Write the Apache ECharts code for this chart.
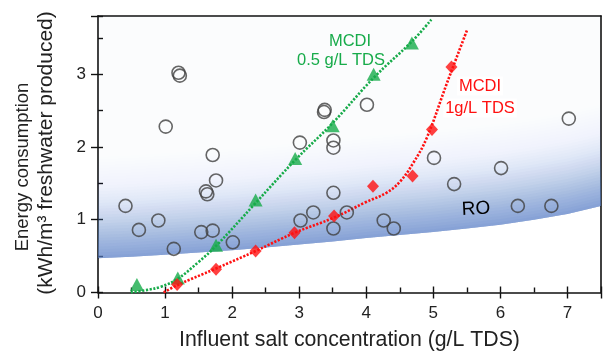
<!DOCTYPE html>
<html><head><meta charset="utf-8">
<script src="https://cdn.jsdelivr.net/npm/echarts@6/dist/echarts.min.js"></script>
<style>html,body{margin:0;padding:0;background:#fff}#c{width:604px;height:352px}</style>
</head><body><div id="c"></div><script>
// ---- data ----
const xTickLabels = [0,1,2,3,4,5,6,7];
const yTickLabels = [0,1,2,3];
// other (open circle) data points
const otherX = [0.41,0.61,0.90,1.01,1.20,1.22,1.13,1.54,1.61,1.63,1.71,1.76,1.71,2.01,3.01,3.02,3.21,3.37,3.38,3.51,3.51,3.51,3.51,3.71,4.01,4.26,4.41,5.01,5.31,6.01,6.26,6.76,7.02];
const otherY = [1.19,0.86,0.99,2.28,3.02,2.98,0.60,0.83,1.39,1.35,1.89,1.54,0.85,0.69,2.06,0.99,1.10,2.48,2.51,2.09,1.99,1.37,0.88,1.10,2.58,0.99,0.88,1.85,1.49,1.71,1.19,1.19,2.39];
// MCDI 0.5 g/L TDS (green triangles)
const mcdi05X = [0.58,1.19,1.76,2.35,2.94,3.50,4.11,4.68];
const mcdi05Y = [0.11,0.20,0.65,1.27,1.84,2.29,3.00,3.43];
// MCDI 1 g/L TDS (red diamonds)
const mcdi1X = [1.18,1.76,2.35,2.93,3.52,4.10,4.69,4.98,5.27];
const mcdi1Y = [0.11,0.32,0.57,0.82,1.05,1.46,1.60,2.24,3.10];
// dotted trend curves
const fit05X = [0.49,0.70,0.94,1.19,1.50,1.76,2.35,2.94,3.50,4.11,4.68,4.97];
const fit05Y = [0.00,0.03,0.08,0.19,0.42,0.64,1.23,1.82,2.33,2.95,3.45,3.75];
const fit1X = [0.98,1.18,1.76,2.35,2.93,3.52,3.99,4.30,4.50,4.70,4.90,5.20,5.50];
const fit1Y = [0.00,0.10,0.33,0.57,0.82,1.03,1.24,1.37,1.52,1.78,2.12,2.87,3.60];
// RO band lower edge
const roEdgeX = [0,0.5,1,1.5,2,2.5,3,3.5,4,4.5,5,5.5,6,6.5,7,7.5];
const roEdgeY = [0.47,0.49,0.52,0.55,0.58,0.62,0.66,0.70,0.75,0.79,0.83,0.88,0.93,1.00,1.08,1.19];

// ---- styles ----
const FONT = '"Liberation Sans", Arial, Helvetica, sans-serif';
const GREEN = '#17ab4a';
const RED = '#ff1010';
const BAND_RGB = '95,130,200';
const fadeStops = [[0,0.72],[0.25,0.55],[0.5,0.36],[0.75,0.21],[1.0,0.11],[1.4,0.05],[2.0,0.028]];
function fadeAt(t){
  for (let i=1;i<fadeStops.length;i++){
    if (t<=fadeStops[i][0]){
      const a=fadeStops[i-1], b=fadeStops[i];
      return a[1]+(b[1]-a[1])*(t-a[0])/(b[0]-a[0]);
    }
  }
  return fadeStops[fadeStops.length-1][1];
}
const zip = (xs, ys) => xs.map((x,i)=>[x, ys[i]]);

const chart = echarts.init(document.getElementById('c'), null, {renderer:'canvas'});
const axisBase = { type:'value', gridIndex:0 };
chart.setOption({
  animation:false,
  backgroundColor:'#fff',
  grid:{left:98, top:16, right:2, bottom:59.5, show:false},
  xAxis:[
    {...axisBase, position:'bottom', min:0, max:7.5, interval:1,
     axisLine:{show:true, onZero:false, lineStyle:{color:'#111', width:1.6}},
     axisTick:{show:true, inside:false, length:6, lineStyle:{color:'#111', width:1.4}},
     axisLabel:{show:true, margin:12, fontSize:17, color:'#222', fontFamily:FONT,
       formatter:v => xTickLabels.includes(v) ? String(v) : ''},
     splitLine:{show:false}},
    {...axisBase, position:'bottom', min:0, max:7.5, interval:1,
     axisLine:{show:false, onZero:false},
     axisTick:{show:true, inside:true, length:6, lineStyle:{color:'#111', width:1.4}},
     minorTick:{show:true, splitNumber:2, length:5, lineStyle:{color:'#111', width:1.4}},
     axisLabel:{show:false}, splitLine:{show:false}},
    {...axisBase, position:'top', min:0, max:7.5,
     axisLine:{show:true, onZero:false, lineStyle:{color:'#111', width:1.6}},
     axisTick:{show:false}, axisLabel:{show:false}, splitLine:{show:false}}
  ],
  yAxis:[
    {...axisBase, position:'left', min:0, max:3.8, interval:1,
     axisLine:{show:true, onZero:false, lineStyle:{color:'#111', width:1.6}},
     axisTick:{show:true, inside:false, length:7, lineStyle:{color:'#111', width:1.4}},
     axisLabel:{show:true, margin:12, fontSize:17, color:'#222', fontFamily:FONT,
       formatter:v => yTickLabels.includes(v) ? String(v) : ''},
     splitLine:{show:false}},
    {...axisBase, position:'left', min:0, max:3.8, interval:1,
     axisLine:{show:false, onZero:false},
     axisTick:{show:true, inside:true, length:5, lineStyle:{color:'#111', width:1.4}},
     minorTick:{show:true, splitNumber:2, length:5, lineStyle:{color:'#111', width:1.4}},
     axisLabel:{show:false}, splitLine:{show:false}},
    {...axisBase, position:'right', min:0, max:3.8,
     axisLine:{show:true, onZero:false, lineStyle:{color:'#111', width:1.6}},
     axisTick:{show:false}, axisLabel:{show:false}, splitLine:{show:false}}
  ],
  series:[
    { // RO band (fading blue region above its lower edge)
      type:'custom', name:'RO', coordinateSystem:'cartesian2d', xAxisIndex:0, yAxisIndex:0,
      clip:true, silent:true, z:1, data:[[0,0]],
      renderItem:(params, api) => {
        const step=0.04, depth=2.0, n=Math.round(depth/step);
        const edge = h => {
          const pts=[];
          for (let i=0;i<roEdgeX.length;i++) pts.push(api.coord([roEdgeX[i], roEdgeY[i]]));
          for (let i=roEdgeX.length-1;i>=0;i--) pts.push(api.coord([roEdgeX[i], roEdgeY[i]+h]));
          return pts;
        };
        const children=[];
        const topA = 0.028;
        children.push({type:'polygon', shape:{points:edge(6)}, style:{fill:`rgba(${BAND_RGB},${topA})`}});
        let prevT = topA;
        for (let k=n-1;k>=0;k--){
          const T = fadeAt((k+0.5)*step);
          const a = 1-(1-T)/(1-prevT);
          prevT = T;
          if (a<=0) continue;
          children.push({type:'polygon', shape:{points:edge((k+1)*step)}, style:{fill:`rgba(${BAND_RGB},${a.toFixed(4)})`}});
        }
        return {type:'group', children};
      }
    },
    {type:'line', name:'fit05', data:zip(fit05X, fit05Y), smooth:0.4, symbol:'none', z:3,
     lineStyle:{color:GREEN, width:2.6, type:[2.2,1.6]}},
    {type:'line', name:'fit1', data:zip(fit1X, fit1Y), smooth:0.4, symbol:'none', z:3,
     lineStyle:{color:RED, width:2.6, type:[2.2,1.6]}},
    {type:'scatter', name:'Other', data:zip(otherX, otherY), symbol:'circle', symbolSize:13, z:4,
     itemStyle:{color:'rgba(0,0,0,0)', borderColor:'#404040', borderWidth:1.6}},
    {type:'scatter', name:'MCDI 0.5 g/L TDS', data:zip(mcdi05X, mcdi05Y), symbol:'triangle', symbolSize:[14,13], z:5,
     itemStyle:{color:GREEN}},
    {type:'scatter', name:'MCDI 1 g/L TDS', data:zip(mcdi1X, mcdi1Y), symbol:'diamond', symbolSize:[12,13], z:5,
     itemStyle:{color:RED}}
  ],
  graphic:[
    {type:'text', x:350, y:41, z:10, style:{text:'MCDI', fill:GREEN, font:`16.5px ${FONT}`, align:'center', verticalAlign:'middle'}},
    {type:'text', x:341, y:60, z:10, style:{text:'0.5 g/L TDS', fill:GREEN, font:`16.5px ${FONT}`, align:'center', verticalAlign:'middle'}},
    {type:'text', x:480, y:86, z:10, style:{text:'MCDI', fill:RED, font:`16.5px ${FONT}`, align:'center', verticalAlign:'middle', backgroundColor:'rgba(255,255,255,0.85)', padding:[1,2]}},
    {type:'text', x:480, y:108, z:10, style:{text:'1g/L TDS', fill:RED, font:`16.5px ${FONT}`, align:'center', verticalAlign:'middle', backgroundColor:'rgba(255,255,255,0.85)', padding:[1,2]}},
    {type:'text', x:476, y:209, z:10, rotation:0.05, style:{text:'RO', fill:'#000', font:`19px ${FONT}`, align:'center', verticalAlign:'middle'}},
    {type:'text', x:349.5, y:340, z:10, style:{text:'Influent salt concentration (g/L TDS)', fill:'#222', font:`21.3px ${FONT}`, align:'center', verticalAlign:'middle'}},
    {type:'text', x:23, y:167, z:10, rotation:Math.PI/2, style:{text:'Energy consumption', fill:'#222', font:`18.5px ${FONT}`, align:'center', verticalAlign:'middle'}},
    {type:'text', x:46, y:153, z:10, rotation:Math.PI/2, style:{text:'(kWh/m³ freshwater produced)', fill:'#222', font:`21px ${FONT}`, align:'center', verticalAlign:'middle'}}
  ]
});
</script></body></html>
